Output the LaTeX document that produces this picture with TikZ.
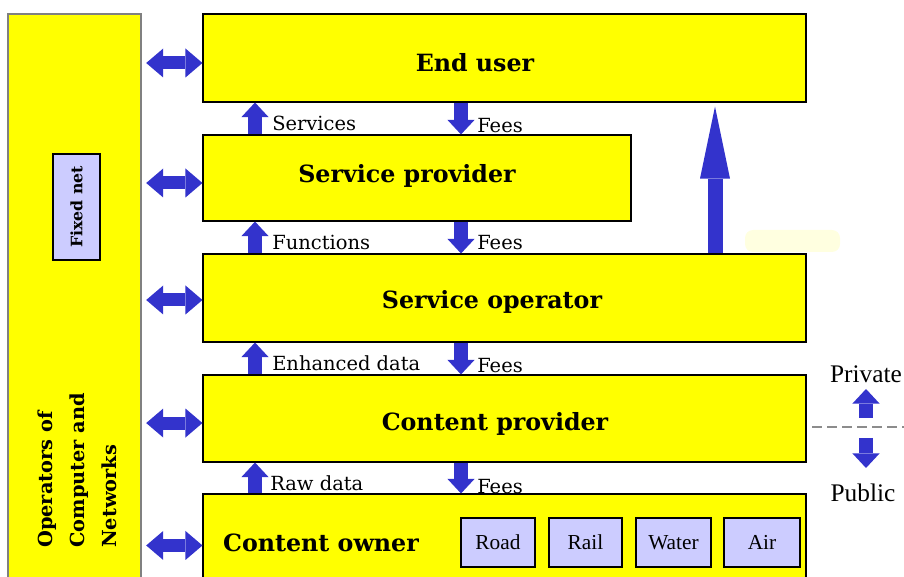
\documentclass[tikz,border=0pt]{standalone}
\usepackage{fontspec}
\setmainfont{DejaVu Serif}
\newfontfamily\timesfont{Liberation Serif}
\usetikzlibrary{arrows.meta,fit}
\definecolor{layeryellow}{RGB}{255,255,0}
\definecolor{flowblue}{RGB}{51,51,204}
\definecolor{modelilac}{RGB}{204,204,255}
\tikzset{
  layer/.style={draw=black, line width=0.8pt, fill=layeryellow, inner sep=0pt},
  mode/.style={draw=black, line width=0.8pt, fill=modelilac, inner sep=0pt},
  title/.style={font=\fontsize{17.8}{21}\selectfont\bfseries},
  flow/.style={font=\fontsize{14.6}{17}\selectfont, anchor=west, inner sep=0pt},
  side/.style={font=\timesfont\fontsize{19}{22}\selectfont, inner sep=0pt},
  dblarr/.style={flowblue, line width=9.75pt,
    {Triangle[width=21.75pt,length=12.75pt,line width=0pt]}-{Triangle[width=21.75pt,length=12.75pt,line width=0pt]}},
  smallarr/.style={flowblue, line width=10.5pt, -{Triangle[width=20.5pt,length=11pt,line width=0pt]}},
  bigarr/.style={flowblue, line width=11.25pt, -{Triangle[width=22.5pt,length=54pt,line width=0pt]}}
}
\begin{document}
\begin{tikzpicture}[x=0.75pt,y=-0.75pt]
\useasboundingbox (0,0) rectangle (904,577);
% operators column
\node[layer, draw=black!50, fit={(8,14) (141,590)}] (ops) {};
\node[mode, fit={(53,154) (100,260)}] (fixed) {};
\node[rotate=90, font=\fontsize{11.8}{14}\selectfont\bfseries] (fixedtxt) at (fixed.center) {Fixed net};
\node[rotate=90, anchor=west, align=left, inner sep=0pt,
  font=\fontsize{14.5}{24}\selectfont\bfseries] (opstxt) at (77,548)
  {Operators of\\Computer and\\Networks};
% layers
\node[layer, fit={(203,14) (806,102)}] (eu) {};
\node[layer, fit={(203,135) (631,221)}] (sp) {};
\node[layer, fit={(203,254) (806,342)}] (so) {};
\node[layer, fit={(203,375) (806,462)}] (cp) {};
\node[layer, fit={(203,494) (806,590)}] (co) {};
\node[title] (eutxt) at (475,63) {End user};
\node[title] (sptxt) at (407,176) {Service provider};
\node[title] (sotxt) at (492,302) {Service operator};
\node[title] (cptxt) at (495,424) {Content provider};
\node[title] (cotxt) at (321,543) {Content owner};
% transport modes
\foreach \m/\xa/\xb/\txt in {road/461/535/Road, rail/549/622/Rail,
    water/636/711/Water, air/724/800/Air} {
  \node[mode, fit={(\xa,518) (\xb,567)}] (\m) {};
  \node[font=\timesfont\fontsize{16}{18}\selectfont] (\m txt) at (\m.center) {\txt};
}
% links to the operators
\foreach \b/\dy in {eu/3.75, sp/3.75, so/1.5, cp/3.4, co/2.6} {
  \coordinate (\b-in) at ([yshift=-\dy pt]\b.west);
  \draw[dblarr, shorten <=3.5pt] (\b-in -| ops.east) -- (\b-in);
}
% flows between layers
\coordinate (upx) at (255,0);
\coordinate (dnx) at (461,0);
\foreach \lo/\hi in {sp/eu, so/sp, cp/so, co/cp} {
  \draw[smallarr] (\lo.north -| upx) -- (\hi.south -| upx);
  \draw[smallarr] (\hi.south -| dnx) -- (\lo.north -| dnx);
}
\node[flow] (svc) at (272,123) {Services};
\node[flow] (fee1) at (477,126) {Fees};
\node[flow] (fun) at (272,242) {Functions};
\node[flow] (fee2) at (477,243) {Fees};
\node[flow] (enh) at (272,363) {Enhanced data};
\node[flow] (fee3) at (477,366) {Fees};
\node[flow] (raw) at (270,483) {Raw data};
\node[flow] (fee4) at (477,487) {Fees};
% direct path to the end user
\fill[layeryellow!12, rounded corners=6pt] (745,230) rectangle (840,252);
\coordinate (bigx) at (715,0);
\draw[bigarr, shorten >=3pt] (so.north -| bigx) -- (eu.south -| bigx);
% private / public
\node[side] (priv) at (866,374) {Private};
\node[side] (pub) at (863,493) {Public};
\coordinate (divl) at (812,427);
\coordinate (divr) at (904,427);
\draw[black!45, line width=1.5pt, dash pattern=on 7.5pt off 3.75pt] (divl) -- (divr);
\coordinate (privtail) at (866,418);
\coordinate (privtip) at (866,389);
\coordinate (pubtail) at (866,438);
\coordinate (pubtip) at (866,468);
\draw[smallarr] (privtail) -- (privtip);
\draw[smallarr] (pubtail) -- (pubtip);
\end{tikzpicture}
\end{document}
